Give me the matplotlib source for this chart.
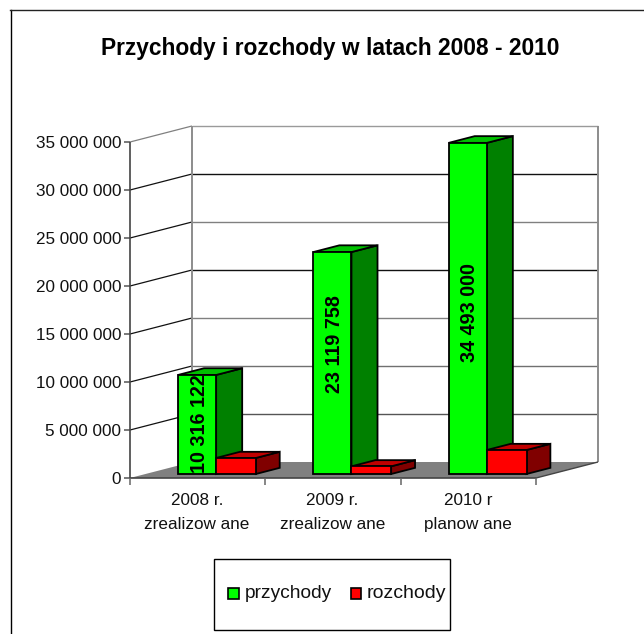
import matplotlib
matplotlib.use("Agg")
import matplotlib.pyplot as plt
from matplotlib.patches import Polygon, Rectangle

categories = ["2008 r.\nzrealizow ane", "2009 r.\nzrealizow ane", "2010 r\nplanow ane"]
series_names = ["przychody", "rozchody"]
przychody = [10316122, 23119758, 34493000]
rozchody = [1670000, 800000, 2500000]
bar_labels = ["10 316 122", "23 119 758", "34 493 000"]
y_ticks = [0, 5000000, 10000000, 15000000, 20000000, 25000000, 30000000, 35000000]
y_tick_labels = ["0", "5 000 000", "10 000 000", "15 000 000", "20 000 000",
                 "25 000 000", "30 000 000", "35 000 000"]
# back wall gridlines come out in two shades in the original
grid_colors = ["#808080", "#555555", "#707070", "#808080", "#111111", "#808080", "#111111", "#9a9a9a"]
# where the rotated value sits along each green bar
label_frac = [0.51, 0.585, 0.488]

plt.rcParams["font.family"] = ["Liberation Sans", "DejaVu Sans"]

W, H = 644, 634
fig = plt.figure(figsize=(W / 100, H / 100), dpi=100, facecolor="white")

# front plane of the fake 3d box, in pixels
left, right, top, bottom = 130, 536, 142, 478
ax = fig.add_axes([left / W, 1 - bottom / H, (right - left) / W, (bottom - top) / H])
ax.set_xlim(0, 3)
ax.set_ylim(0, 35000000)
ax.axis("off")

px_x = 3 / (right - left)
px_y = 35000000 / (bottom - top)

# depth offset of the back wall, in data units
dx = 62 * px_x
dy = 16 * px_y


def proj(x, y, d):
    return (x + d * dx, y + d * dy)


def poly(pts, **kw):
    ax.add_patch(Polygon(pts, closed=True, clip_on=False, **kw))


def line(xs, ys, **kw):
    ax.plot(xs, ys, clip_on=False, solid_capstyle="butt", **kw)


# floor and walls
poly([proj(0, 0, 0), proj(3, 0, 0), proj(3, 0, 1), proj(0, 0, 1)], fc="#808080", ec="none", zorder=1)
for v, c in zip(y_ticks[1:], grid_colors[1:]):
    a = proj(0, v, 0)
    b = proj(0, v, 1)
    e = proj(3, v, 1)
    line([a[0], b[0]], [a[1], b[1]], color="#111111" if v < 35000000 else "#808080", lw=0.9, zorder=2)
    line([b[0], e[0]], [b[1], e[1]], color=c, lw=1.0, zorder=2)
    line([-6 * px_x, 0], [v, v], color="#555555", lw=1.1, zorder=5)
line([-6 * px_x, 0], [0, 0], color="#555555", lw=1.1, zorder=5)
line([dx, dx], [dy, 35000000 + dy], color="#8c8c8c", lw=1.4, zorder=2)
line([3 + dx, 3 + dx], [dy, 35000000 + dy], color="#8c8c8c", lw=1.4, zorder=2)
line([0, 3], [0, 0], color="#444444", lw=1.2, zorder=5)
line([0, 0], [0, 35000000], color="#444444", lw=1.2, zorder=5)
line([3, 3 + dx], [0, dy], color="#444444", lw=1, zorder=2)
for i in range(4):
    line([i, i], [0, -7 * px_y], color="#666666", lw=1.1, zorder=5)

for v, t in zip(y_ticks, y_tick_labels):
    ax.text(-9 * px_x, v - 1.5 * px_y, t, ha="right", va="center", fontsize=12.3, color="#111111")
for i, t in enumerate(categories):
    ax.text(i + 0.5 - 0.5 * px_x, -34.5 * px_y, t, ha="center", va="center",
            fontsize=12.3, linespacing=1.7, color="#111111")


def bar3d(x0, w, h, depth, front, side, cap, z):
    d0, d1 = 0.25, 0.25 + depth
    edge = dict(ec="black", lw=1.3, joinstyle="miter", zorder=z)
    poly([proj(x0 + w, 0, d0), proj(x0 + w, 0, d1), proj(x0 + w, h, d1), proj(x0 + w, h, d0)], fc=side, **edge)
    poly([proj(x0, h, d0), proj(x0 + w, h, d0), proj(x0 + w, h, d1), proj(x0, h, d1)], fc=cap, **edge)
    poly([proj(x0, 0, d0), proj(x0 + w, 0, d0), proj(x0 + w, h, d0), proj(x0, h, d0)], fc=front, **edge)


bw = 0.282
for i in range(3):
    x0 = i + 0.24
    bar3d(x0, bw, przychody[i], 0.42, "#00ff00", "#008000", "#00c000", 6)
    bar3d(x0 + bw, bw * 1.04, rozchody[i], 0.385, "#ff0000", "#800000", "#c00000", 7)
    fx, fy = proj(x0 + bw / 2 + 2 * px_x, przychody[i] * label_frac[i], 0.25)
    ax.text(fx, fy, bar_labels[i], rotation=90, ha="center", va="center",
            fontsize=14.2, fontweight="bold", color="black", zorder=8)

fig.text(330 / W, 1 - 49 / H, "Przychody i rozchody w latach 2008 - 2010",
         ha="center", va="center", fontsize=16.4, fontweight="bold")

# only the top and left edge of the chart border are inside the picture
fig.add_artist(plt.Line2D([10.5 / W, 10.5 / W], [0, 1 - 9.5 / H], color="black", lw=1))
fig.add_artist(plt.Line2D([10 / W, 1], [1 - 9.5 / H, 1 - 9.5 / H], color="#222222", lw=1))

# legend box
fig.add_artist(Rectangle((214 / W, 1 - 629.5 / H), 236 / W, 71 / H, transform=fig.transFigure,
                         fc="white", ec="black", lw=1))
fig.add_artist(Rectangle((227.5 / W, 1 - 598.5 / H), 11 / W, 11 / H, transform=fig.transFigure,
                         fc="#00ff00", ec="black", lw=1.2))
fig.add_artist(Rectangle((350.5 / W, 1 - 598.5 / H), 11 / W, 11 / H, transform=fig.transFigure,
                         fc="#ff0000", ec="black", lw=1.2))
fig.text(245 / W, 1 - 598 / H, series_names[0], ha="left", va="baseline", fontsize=13.8, color="#111111")
fig.text(367 / W, 1 - 598 / H, series_names[1], ha="left", va="baseline", fontsize=14, color="#111111")

fig.savefig("out.png", dpi=100)
